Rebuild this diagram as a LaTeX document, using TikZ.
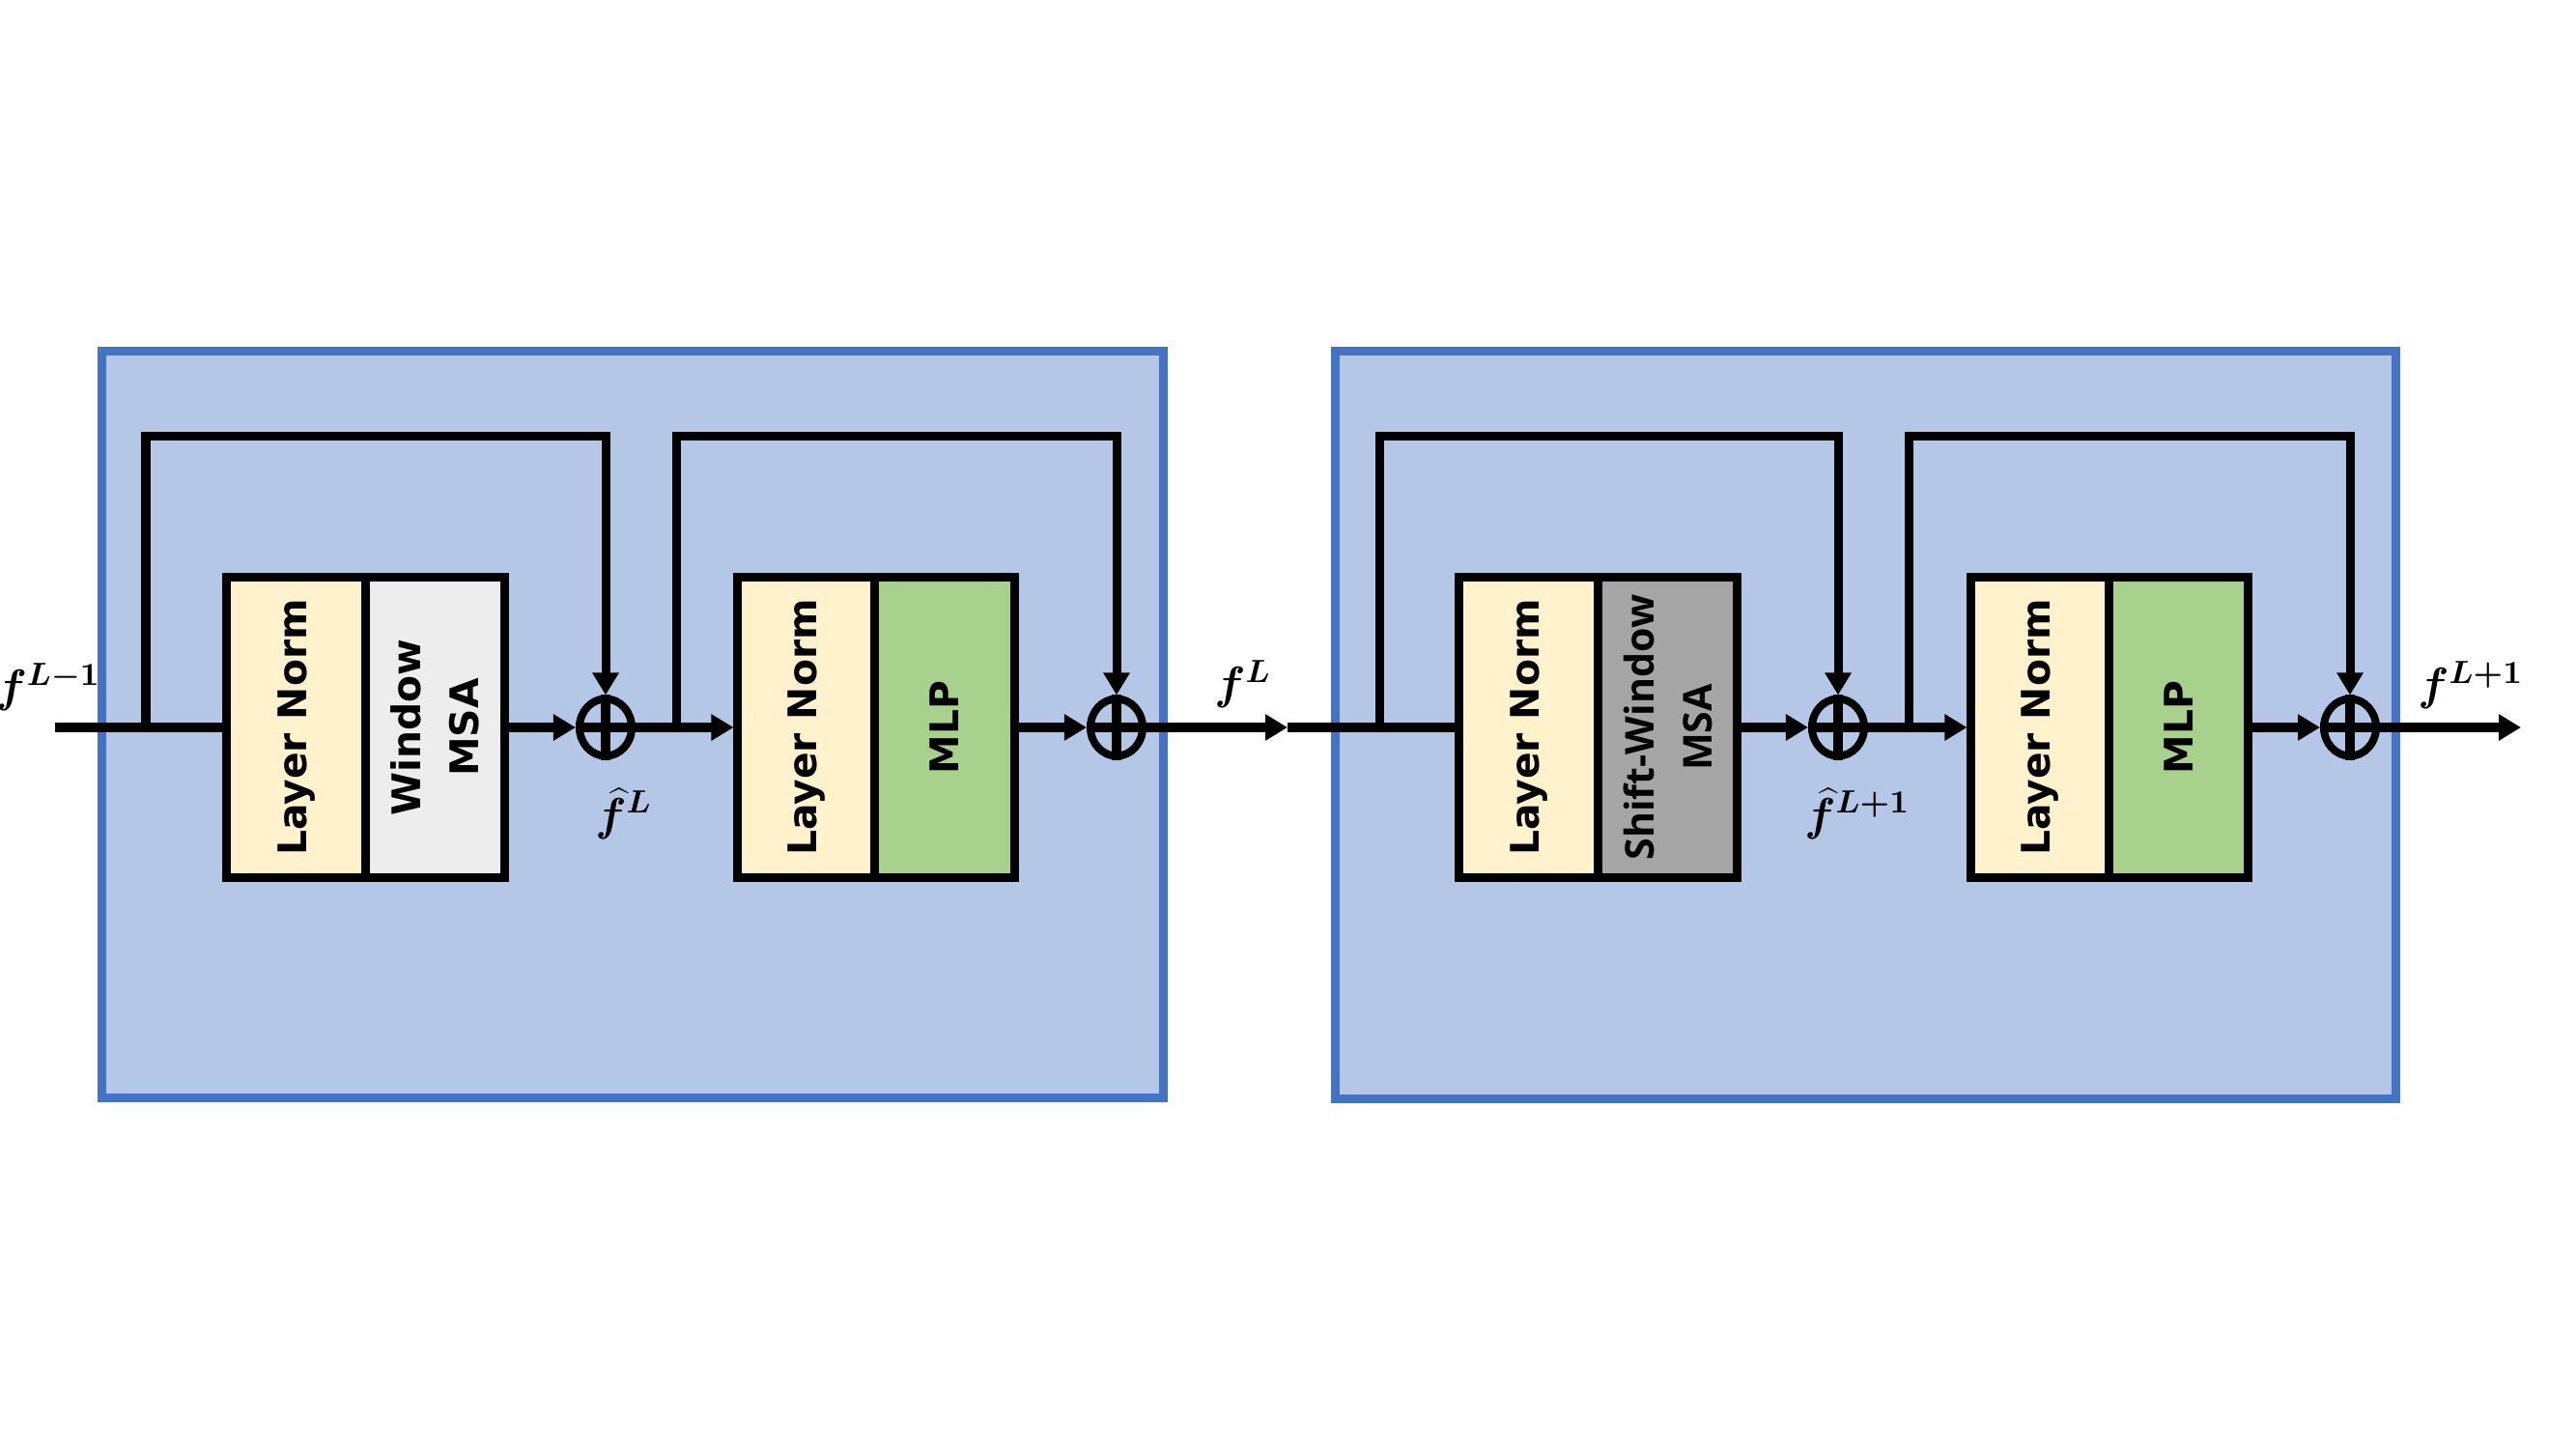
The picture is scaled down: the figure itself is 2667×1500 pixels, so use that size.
\RequirePackage{fix-cm}
\documentclass[tikz,border=0pt]{standalone}
\usepackage{fontspec}
\setsansfont{DejaVu Sans}
\newfontfamily\swfont{Open Sans}
\usetikzlibrary{arrows.meta,shapes.geometric}
\definecolor{blkfill}{HTML}{B4C7E7}
\definecolor{blkborder}{HTML}{4472C4}
\definecolor{lnfill}{HTML}{FFF2CC}
\definecolor{wfill}{HTML}{EDEDED}
\definecolor{swfill}{HTML}{A5A5A5}
\definecolor{mlpfill}{HTML}{A9D18E}
\tikzset{
  blk/.style={draw=blkborder, fill=blkfill, line width=0.09cm},
  unitbox/.style={draw=black, line width=0.09cm, minimum height=3.10cm, inner sep=0pt, anchor=center},
  lnbox/.style={unitbox, fill=lnfill},
  wbox/.style={unitbox, fill=wfill},
  swbox/.style={unitbox, fill=swfill},
  mlpbox/.style={unitbox, fill=mlpfill},
  boxtext/.style={rotate=90, font=\sffamily\bfseries\fontsize{11.6}{17.1}\selectfont, align=center, inner sep=0pt},
  swtext/.style={rotate=90, font=\swfont\bfseries\fontsize{11.7}{17.1}\selectfont, align=center, inner sep=0pt},
  conn/.style={line width=0.1cm},
  arr/.style={conn, -{Triangle[length=0.23cm,width=0.26cm]}},
  skiparr/.style={line width=0.09cm, line join=miter, -{Triangle[length=0.23cm,width=0.26cm]}},
  addop/.style={ellipse, draw, line width=0.08cm, minimum width=0.54cm, minimum height=0.59cm, inner sep=0pt},
  mathlbl/.style={inner sep=0pt, font=\fontsize{13.5}{16}\selectfont\boldmath}
}
\begin{document}
\begin{tikzpicture}[x=0.01cm,y=-0.01cm]
\useasboundingbox (0,0) rectangle (2667,1500);
\fill[white] (0,0) rectangle (2667,1500);

% outer blocks
\draw[blk] (105.5,363.5) rectangle (1204.5,1136.5);
\draw[blk] (1382,363.5) rectangle (2480.5,1137);

% ---------- block 1 ----------
\node[lnbox, minimum width=1.44cm] (ln1) at (307,753) {};
\node[wbox, minimum width=1.43cm] (wm) at (450.5,753) {};
\node[boxtext] at (ln1) {Layer Norm};
\node[boxtext] at (wm) {Window\\MSA};

\node[addop] (c1) at (627,753) {};

\node[lnbox, minimum width=1.42cm] (ln2) at (835,753) {};
\node[mlpbox, minimum width=1.44cm] (mlp1) at (978,753) {};
\node[boxtext] at (ln2) {Layer Norm};
\node[boxtext] at (mlp1) {MLP};

\node[addop] (c2) at (1156,753) {};

% ---------- block 2 ----------
\node[lnbox, minimum width=1.44cm] (ln3) at (1583,753) {};
\node[swbox, minimum width=1.43cm] (sw) at (1726.5,753) {};
\node[boxtext] at (ln3) {Layer Norm};
\node[swtext] at (sw) {Shift-Window\\MSA};

\node[addop] (c3) at (1903,753) {};

\node[lnbox, minimum width=1.43cm] (ln4) at (2112.5,753) {};
\node[mlpbox, minimum width=1.43cm] (mlp2) at (2255.5,753) {};
\node[boxtext] at (ln4) {Layer Norm};
\node[boxtext] at (mlp2) {MLP};

\node[addop] (c4) at (2433,753) {};

% coordinates
\coordinate (in) at (57,753);
\coordinate (s1) at (151,753);
\coordinate (s2) at (700,753);
\coordinate (mid) at (1333,753);
\coordinate (s3) at (1428,753);
\coordinate (s4) at (1976,753);
\coordinate (out) at (2610,753);

% main line
\draw[conn] (in) -- (ln1.west);
\draw[arr] (wm.east) -- (c1.west);
\draw[arr] (c1.east) -- (ln2.west);
\draw[arr] (mlp1.east) -- (c2.west);
\draw[arr] (c2.east) -- (mid);
\draw[conn] (mid) -- (ln3.west);
\draw[arr] (sw.east) -- (c3.west);
\draw[arr] (c3.east) -- (ln4.west);
\draw[arr] (mlp2.east) -- (c4.west);
\draw[arr] (c4.east) -- (out);

% plus signs
\foreach \c in {c1,c2,c3,c4}{
  \draw[conn] (\c.north) -- (\c.south);
  \draw[conn] (\c.west) -- (\c.east);
}

% skip connections
\draw[skiparr] (s1) -- ++(0,-302) -| (c1.north);
\draw[skiparr] (s2) -- ++(0,-302) -| (c2.north);
\draw[skiparr] (s3) -- ++(0,-302) -| (c3.north);
\draw[skiparr] (s4) -- ++(0,-302) -| (c4.north);

% labels
\node[mathlbl] (lin) at (50,711) {$f^{L-1}$};
\node[mathlbl] (lmid) at (1287,708) {$f^{L}$};
\node[mathlbl] (lout) at (2558,709) {$f^{L+1}$};
\node[mathlbl] (lh1) at (646,842) {$\widehat{f}^{L}$};
\node[mathlbl] (lh2) at (1923,842) {$\widehat{f}^{L+1}$};
\end{tikzpicture}
\end{document}
